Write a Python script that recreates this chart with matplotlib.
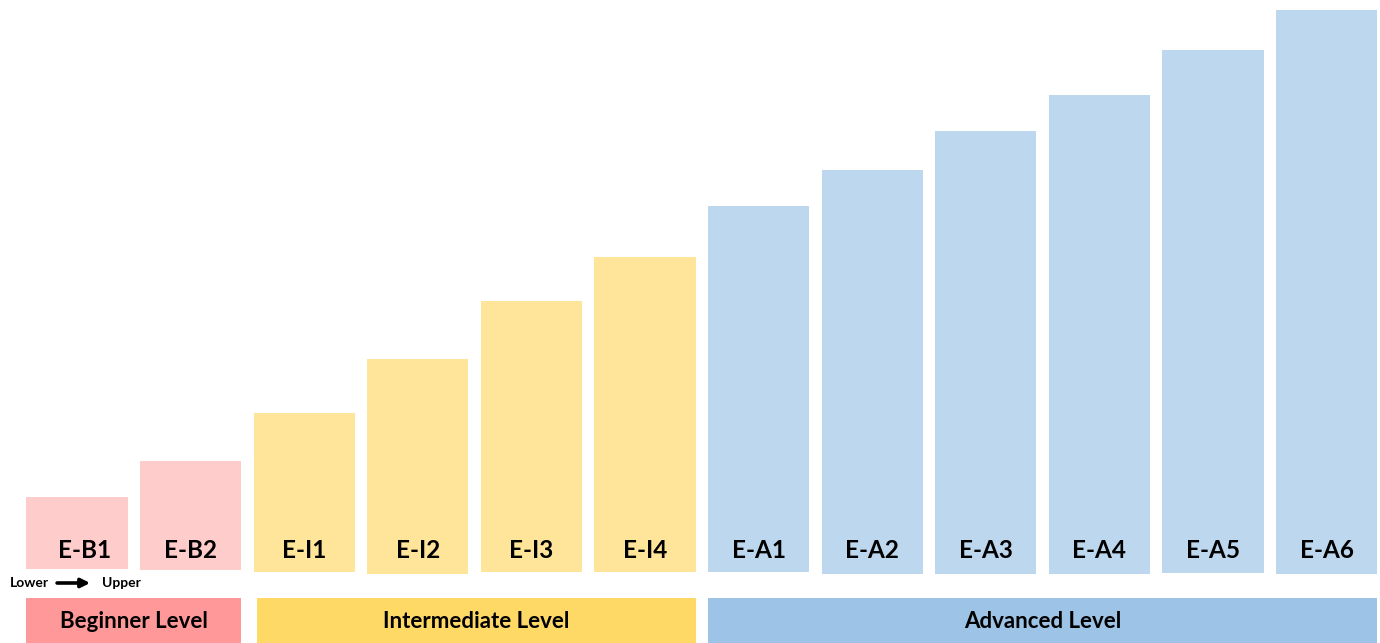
import numpy as np
import matplotlib
matplotlib.use("Agg")
import matplotlib.pyplot as plt

# -----------------------------
# Data
# -----------------------------
levels = ["E-B1", "E-B2", "E-I1", "E-I2", "E-I3", "E-I4",
          "E-A1", "E-A2", "E-A3", "E-A4", "E-A5", "E-A6"]
heights = [72, 109, 159, 215, 271, 315, 366, 404, 443, 479, 523, 564]
bases = [5, 4, 2, 0, 2, 2, 2, 0, 0, 0, 1, 0]
groups = ["Beginner Level", "Intermediate Level", "Advanced Level"]
group_sizes = [2, 4, 6]

bar_colors = ["#FFCCCC", "#FEE599", "#BDD7EE"]
band_colors = ["#FF9999", "#FFD966", "#9DC3E6"]

plt.rcParams['font.family'] = ['Lato', 'DejaVu Sans']

fig = plt.figure(figsize=(13.8, 6.43), dpi=100)
ax = fig.add_axes([0, 0, 1, 1])
ax.set_xlim(-0.678, 11.47)
ax.set_ylim(-69, 574)
ax.axis("off")

width = 0.89
x = np.arange(len(levels))
colors = []
for g, n in enumerate(group_sizes):
    colors += [bar_colors[g]] * n

ax.bar(x, heights, width=width, bottom=bases, color=colors, edgecolor="none")
for xi, lab in zip(x, levels):
    dx = 0.07 if xi == 0 else 0.0
    ax.text(xi + dx, 24, lab, ha="center", va="center", fontsize=17.5,
            fontweight="bold", color="black")

# group bands under the bars
start = 0
for g, n in enumerate(group_sizes):
    left = start - width / 2
    right = start + n - 1 + width / 2
    if g == 1:
        left += 0.03
    ax.bar((left + right) / 2, 45, width=right - left, bottom=-69,
           color=band_colors[g], edgecolor="none")
    ax.text((left + right) / 2, -48, groups[g], ha="center", va="center",
            fontsize=16, fontweight="bold", color="black")
    start += n

# Lower -> Upper hint
ax.text(-0.59, -9, "Lower", ha="left", va="center", fontsize=10, fontweight="bold")
ax.annotate("", xy=(0.14, -9), xytext=(-0.2, -9),
            arrowprops=dict(arrowstyle="-|>", color="black", lw=2.6,
                            mutation_scale=13))
ax.text(0.22, -9, "Upper", ha="left", va="center", fontsize=10, fontweight="bold")

fig.savefig("out.png", dpi=100, facecolor="white")
